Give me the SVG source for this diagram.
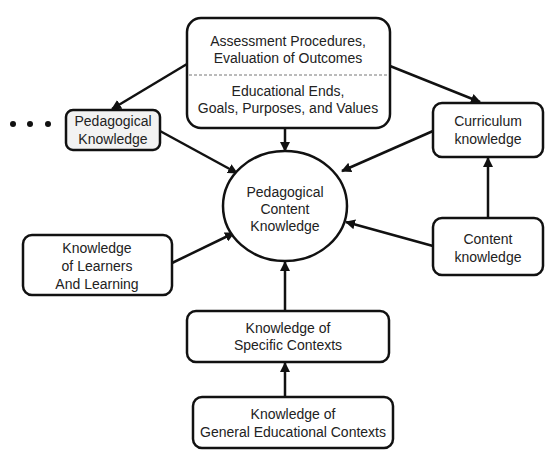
<svg xmlns="http://www.w3.org/2000/svg" width="560" height="468" viewBox="0 0 560 468">
<style>
.box{fill:#fff;stroke:#111;stroke-width:2.5}
.t{font-family:"Liberation Sans",Arial,sans-serif;font-size:14px;fill:#222;text-anchor:middle}
.c{stroke:#111;stroke-width:2.5;fill:none;marker-end:url(#ah)}
</style>
<defs>
<marker id="ah" viewBox="0 0 10 10" refX="9" refY="5" markerWidth="4" markerHeight="4" orient="auto" markerUnits="strokeWidth">
<path d="M0,0 L10,5 L0,10 z" fill="#111"/>
</marker>
</defs>
<rect width="560" height="468" fill="#fff"/>
<g id="connectors">
<line class="c" x1="187" y1="64" x2="112" y2="109"/>
<line class="c" x1="390" y1="66" x2="480" y2="102"/>
<line class="c" x1="285" y1="128" x2="285" y2="151"/>
<line class="c" x1="160" y1="131" x2="237" y2="173"/>
<line class="c" x1="433" y1="131" x2="342" y2="171"/>
<line class="c" x1="488" y1="218" x2="488" y2="158"/>
<line class="c" x1="433" y1="246" x2="346" y2="222"/>
<line class="c" x1="172" y1="263" x2="234" y2="233"/>
<line class="c" x1="285" y1="311" x2="285" y2="262"/>
<line class="c" x1="285" y1="397" x2="285" y2="363"/>
</g>
<g id="dots" fill="#111">
<circle cx="13" cy="124" r="3"/>
<circle cx="30" cy="124" r="3"/>
<circle cx="48" cy="124" r="3"/>
</g>
<g id="top">
<rect class="box" x="187" y="18" width="203" height="110" rx="14"/>
<line x1="189" y1="75" x2="388" y2="75" stroke="#777" stroke-width="1" stroke-dasharray="3,2"/>
<text class="t" x="288" y="46">Assessment Procedures,</text>
<text class="t" x="288" y="63">Evaluation of Outcomes</text>
<text class="t" x="288" y="96">Educational Ends,</text>
<text class="t" x="288" y="113">Goals, Purposes, and Values</text>
</g>
<g id="pedagogical">
<rect class="box" x="66" y="110" width="94" height="40" rx="7" style="fill:#f2f2f2"/>
<text class="t" x="113" y="126">Pedagogical</text>
<text class="t" x="113" y="144">Knowledge</text>
</g>
<g id="curriculum">
<rect class="box" x="433" y="103" width="110" height="54" rx="9"/>
<text class="t" x="488" y="126">Curriculum</text>
<text class="t" x="488" y="144">knowledge</text>
</g>
<g id="pck">
<ellipse class="box" cx="285" cy="206" rx="62" ry="55"/>
<text class="t" x="285" y="197">Pedagogical</text>
<text class="t" x="285" y="214">Content</text>
<text class="t" x="285" y="231">Knowledge</text>
</g>
<g id="learners">
<rect class="box" x="23" y="235" width="149" height="60" rx="9"/>
<text class="t" x="97" y="253">Knowledge</text>
<text class="t" x="97" y="271">of Learners</text>
<text class="t" x="97" y="289">And Learning</text>
</g>
<g id="content">
<rect class="box" x="433" y="218" width="110" height="57" rx="9"/>
<text class="t" x="488" y="244">Content</text>
<text class="t" x="488" y="262">knowledge</text>
</g>
<g id="specific">
<rect class="box" x="187" y="311" width="202" height="51" rx="9"/>
<text class="t" x="288" y="333">Knowledge of</text>
<text class="t" x="288" y="350">Specific Contexts</text>
</g>
<g id="general">
<rect class="box" x="193" y="397" width="200" height="51" rx="9"/>
<text class="t" x="293" y="419">Knowledge of</text>
<text class="t" x="293" y="437">General Educational Contexts</text>
</g>
</svg>
